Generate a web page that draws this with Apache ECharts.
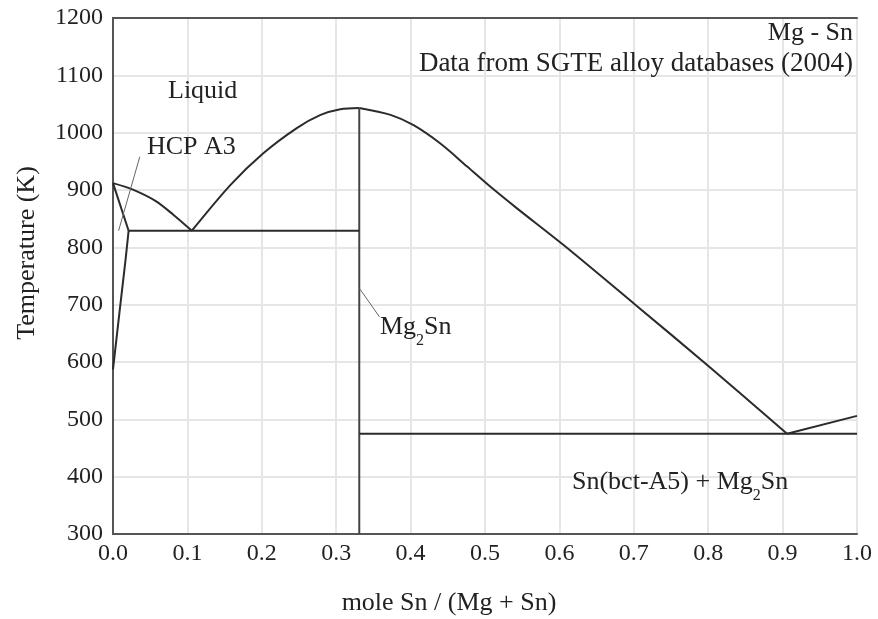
<!DOCTYPE html>
<html>
<head>
<meta charset="utf-8">
<script src="https://cdn.jsdelivr.net/npm/echarts@6/dist/echarts.min.js"></script>
<style>html,body{margin:0;padding:0;background:#fff;}#c{width:878px;height:619px;}</style>
</head>
<body>
<div id="c"></div>
<script>
// ---- data (x = mole Sn / (Mg+Sn), y = Temperature K) ----
const xTicks = [0.0,0.1,0.2,0.3,0.4,0.5,0.6,0.7,0.8,0.9,1.0];
const yTicks = [300,400,500,600,700,800,900,1000,1100,1200];
const liquidusMg = [[0,912],[0.026,901],[0.057,881],[0.081,857],[0.106,829]];
const solvusHcpUpper = [[0,912],[0.021,829]];
const solvusHcpLower = [[0.021,829],[0.017,780],[0.009,690],[0,587]];
const liquidusMg2SnLeft = [[0.106,829],[0.158,909],[0.202,964],[0.247,1008],[0.279,1031],[0.3055,1041],[0.331,1043]];
const liquidusMg2SnRight = [[0.331,1043],[0.373,1031],[0.404,1013],[0.44,981],[0.476,941],[0.507,906],[0.543,868],[0.6056,804],[0.702,700],[0.803,590],[0.906,475]];
const liquidusSn = [[0.906,475],[1.0,506]];
const mg2snLine = [[0.331,1043],[0.331,300]];
const eutecticMg = [[0.021,829],[0.331,829]];
const eutecticSn = [[0.331,475],[1.0,475]];
const hcpLeader = [[0.0075,829],[0.036,958]];
const mg2snLeader = [[0.3315,728],[0.358,679]];

const FF = '"Liberation Serif", "Times New Roman", serif';
const chart = echarts.init(document.getElementById('c'), null, {renderer:'canvas'});

function phaseLine(data, smooth, w, color){
  return {type:'line', data:data, smooth:smooth, showSymbol:false, symbol:'none',
    lineStyle:{color:color||'#2b2b2b', width:w||2}, silent:true, animation:false, z:5};
}
const frameLine = {show:true, lineStyle:{color:'#555', width:2}};

const option = {
  animation:false,
  backgroundColor:'#fff',
  grid:{left:113, right:21, top:18, bottom:85, containLabel:false},
  xAxis:[{type:'value', min:0, max:1, interval:0.1,
    axisLine:frameLine, axisTick:{show:false},
    axisLabel:{color:'#222', fontFamily:FF, fontSize:24, margin:8, formatter:v=>v.toFixed(1)},
    splitLine:{show:true, lineStyle:{color:'#e6e6e6', width:2}}},
    {type:'value', position:'top', min:0, max:1, interval:0.1, axisLine:frameLine,
     axisTick:{show:false}, axisLabel:{show:false}, splitLine:{show:false}}],
  yAxis:[{type:'value', min:300, max:1200, interval:100,
    axisLine:frameLine, axisTick:{show:false},
    axisLabel:{color:'#222', fontFamily:FF, fontSize:24, margin:10, formatter:v=>String(v)},
    splitLine:{show:true, lineStyle:{color:'#e6e6e6', width:2}}},
    {type:'value', position:'right', min:300, max:1200, interval:100, axisLine:frameLine,
     axisTick:{show:false}, axisLabel:{show:false}, splitLine:{show:false}}],
  series:[
    phaseLine(liquidusMg, 0.3),
    phaseLine(solvusHcpUpper, false),
    phaseLine(solvusHcpLower, false),
    phaseLine(liquidusMg2SnLeft, 0.3),
    phaseLine(liquidusMg2SnRight, 0.3),
    phaseLine(liquidusSn, false),
    phaseLine(mg2snLine, false, 2, '#444'),
    phaseLine(eutecticMg, false),
    phaseLine(eutecticSn, false),
    phaseLine(hcpLeader, false, 1, '#666'),
    phaseLine(mg2snLeader, false, 1, '#666')
  ],
  graphic:[
    {type:'text', z:100, x:853, y:33, style:{text:'Mg - Sn', font:'26px '+FF, fill:'#222', align:'right', verticalAlign:'middle'}},
    {type:'text', z:100, x:853, y:64, style:{text:'Data from SGTE alloy databases (2004)', font:'27px '+FF, fill:'#222', align:'right', verticalAlign:'middle'}},
    {type:'text', z:100, x:168, y:91, style:{text:'Liquid', font:'26px '+FF, fill:'#222', align:'left', verticalAlign:'middle'}},
    {type:'text', z:100, x:147, y:147, style:{text:'HCP A3', font:'26px '+FF, fill:'#222', align:'left', verticalAlign:'middle'}},
    {type:'text', z:100, x:380, y:314, style:{text:'{a|Mg}{b|2}{a|Sn}', align:'left', verticalAlign:'top',
      rich:{a:{fontFamily:FF, fontSize:26, lineHeight:28, verticalAlign:'top', fill:'#222', color:'#222'},
            b:{fontFamily:FF, fontSize:16, lineHeight:16, padding:[19,0,0,0], verticalAlign:'top', fill:'#222', color:'#222'}}}},
    {type:'text', z:100, x:572, y:469, style:{text:'{a|Sn(bct-A5) + Mg}{b|2}{a|Sn}', align:'left', verticalAlign:'top',
      rich:{a:{fontFamily:FF, fontSize:26, lineHeight:28, verticalAlign:'top', fill:'#222', color:'#222'},
            b:{fontFamily:FF, fontSize:16, lineHeight:16, padding:[19,0,0,0], verticalAlign:'top', fill:'#222', color:'#222'}}}},
    {type:'text', z:100, x:449, y:603, style:{text:'mole Sn / (Mg + Sn)', font:'26px '+FF, fill:'#222', align:'center', verticalAlign:'middle'}},
    {type:'text', z:100, x:27, y:253, rotation:Math.PI/2, style:{text:'Temperature (K)', font:'26px '+FF, fill:'#222', align:'center', verticalAlign:'middle'}}
  ]
};
chart.setOption(option);
</script>
</body>
</html>
